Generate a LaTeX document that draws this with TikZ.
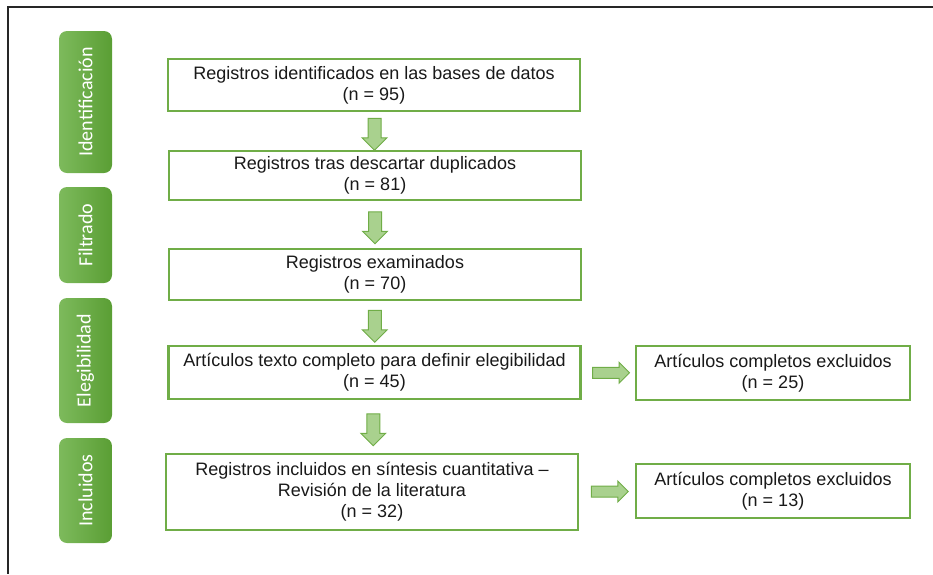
\documentclass[tikz,border=0pt]{standalone}
\usepackage{xcolor}
\usepackage{tikz}
\usepackage{fontspec}
\setmainfont{Liberation Sans}
\newfontfamily\tabfont{Carlito}
\usetikzlibrary{calc,positioning,shapes.arrows}

\definecolor{boxgreen}{HTML}{70AD47}
\definecolor{arrowfill}{HTML}{A9D18E}
\definecolor{tableft}{HTML}{7DBA5C}
\definecolor{tabright}{HTML}{5A9E34}

\begin{document}
\begin{tikzpicture}[x=1pt, y=-1pt,
                    stage/.style={draw=boxgreen, line width=2.5pt, fill=white,
                                  minimum width=412pt, align=center,
                                  font=\fontsize{18}{21}\selectfont, text=black!90},
                    excluded/.style={stage, minimum width=274pt, minimum height=54pt},
                    phase/.style={rounded corners=8pt, left color=tableft, right color=tabright,
                                  minimum height=53pt, text=white, rotate=90,
                                  font=\tabfont\fontsize{20}{22}\selectfont},
                    flow/.style={single arrow, draw=boxgreen, fill=arrowfill, line width=1pt,
                                 inner sep=6pt, minimum width=24pt, minimum height=32pt,
                                 single arrow head extend=6pt, single arrow head indent=0pt}]
    \useasboundingbox (0,0) rectangle (933,574);
    \draw[line width=1.5pt, black!85] (933,7) -- (8,7) -- (8,574);

    % phases
    \node[phase, minimum width=142pt] (ident) at (85.5,102) {Identificación};
    \node[phase, minimum width=96pt] (filt) at (85.5,235) {Filtrado};
    \node[phase, minimum width=125pt] (eleg) at (85.5,360.5) {Elegibilidad};
    \node[phase, minimum width=105pt] (incl) at (85.5,490.5) {Incluidos};

    % records
    \node[stage, minimum height=52pt] (identified) at (374,85) {Registros identificados en las bases de datos\\(n = 95)};
    \node[stage, minimum height=49pt] (deduplicated) at (375,175.5) {Registros tras descartar duplicados\\(n = 81)};
    \node[stage, minimum height=51pt] (screened) at (375,274.5) {Registros examinados\\(n = 70)};
    \node[stage, minimum height=53pt] (fulltext) at (374.5,372.5) {Artículos texto completo para definir elegibilidad\\(n = 45)};
    \node[stage, minimum height=76pt] (included) at (372,492) {Registros incluidos en síntesis cuantitativa --\\Revisión de la literatura\\(n = 32)};
    \node[excluded] (excl_a) at (773,373) {Artículos completos excluidos\\(n = 25)};
    \node[excluded] (excl_b) at (773,491) {Artículos completos excluidos\\(n = 13)};

    % Define transitions
    \node[flow, rotate=-90] at ($(identified.south)!0.5!(deduplicated.north)$) {};
    \node[flow, rotate=-90] at ($(deduplicated.south)!0.5!(screened.north)$) {};
    \node[flow, rotate=-90] at ($(screened.south)!0.5!(fulltext.north)$) {};
    \node[flow, rotate=-90] at ($(fulltext.south)!0.5!(included.north)$) {};
    \node[flow, inner sep=5pt, minimum width=20pt, minimum height=37pt, single arrow head extend=5pt]
        at ($(fulltext.east)!0.5!(excl_a.west)$) {};
    \node[flow, inner sep=5pt, minimum width=20pt, minimum height=37pt, single arrow head extend=5pt]
        at ($(included.east)!0.5!(excl_b.west)$) {};

\end{tikzpicture}
\end{document}
